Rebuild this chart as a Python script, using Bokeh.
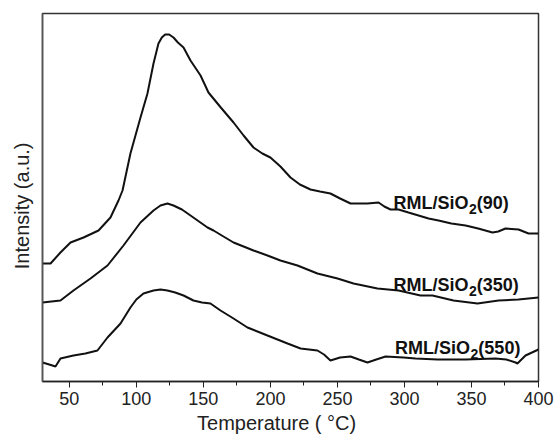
from bokeh.plotting import figure
from bokeh.models import FixedTicker, Label
from bokeh.embed import file_html
from bokeh.resources import INLINE

# Temperature (°C) and intensity (a.u.)
t_90 = [30, 36, 43.4, 50.9, 60.6, 71.8, 80.7, 86.7, 89.7, 95.6, 103.1, 108.3, 112.8, 116.5,
        119.0, 121.5, 124.5, 127.7, 131.0, 135.2, 140.4, 147.9, 153.8, 163.0, 172.5, 180.0,
        187.4, 194.0, 200.0, 207.5, 215.0, 222.0, 229.9, 237.0, 244.8, 252.0, 259.8, 266.0,
        272.4, 280.7, 285.0, 289.6, 295.6, 303.0, 310.5, 318.0, 325.4, 335.0, 345.6, 355.0,
        365.7, 370.0, 375.4, 385.1, 392.6, 400]
i_90 = [118, 118, 129, 139, 144, 151, 164, 181, 191, 228, 264, 288, 318, 338,
        344, 347, 347, 344, 339, 334, 321, 306, 289, 274, 259, 246,
        234, 228, 224, 215, 204, 197, 192, 190, 188, 183, 178, 178,
        178, 179, 175, 172, 172, 169, 166, 163, 161, 158, 156, 153,
        149, 150, 153, 152, 148, 148]

t_350 = [30, 43.4, 53.1, 65.8, 78.5, 90.4, 103.1, 112.8, 118.0, 123.2, 127.7, 134.0, 140.4,
         153.1, 157.6, 165.0, 172.5, 180.0, 187.4, 197.8, 207.5, 220.2, 235.1, 250.1, 262.0,
         279.9, 295.6, 312.0, 320.9, 336.6, 354.5, 370.2, 385.0, 400]
i_350 = [79, 81, 91, 103, 116, 136, 159, 171, 176, 178, 176, 172, 166,
         154, 151, 145, 139, 135, 131, 126, 121, 116, 108, 103, 98,
         93, 91, 86, 86, 81, 78, 81, 82, 84]

t_550 = [30, 35.0, 39.7, 43.4, 53.1, 62.0, 71.0, 78.5, 88.2, 95.6, 100.0, 105.3, 112.8,
         118.0, 123.2, 129.0, 135.2, 142.6, 149.0, 155.3, 162.8, 172.5, 182.9, 197.8, 212.8,
         222.5, 235.1, 240.0, 244.8, 252.0, 259.8, 266.0, 272.4, 279.0, 285.9, 299.3, 308.3,
         324.7, 345.6, 367.9, 376.0, 382.9, 384.3, 390.3, 400]
i_550 = [19, 17, 15, 23, 26, 28, 31, 44, 58, 74, 82, 88, 91,
         92, 91, 89, 86, 81, 79, 78, 71, 63, 54, 46, 38,
         33, 31, 27, 21, 24, 25, 22, 19, 22, 25, 24, 23,
         22, 22, 23, 22, 19, 18, 26, 32]

label_main = ["RML/SiO", "RML/SiO", "RML/SiO"]
label_sub = ["2", "2", "2"]
label_tail = ["(90)", "(350)", "(550)"]
label_t = [291.8, 291.8, 293.0]
label_i = [179, 97, 34]

x_ticks = [50, 100, 150, 200, 250, 300, 350, 400]
x_minor = [75, 125, 175, 225, 275, 325, 375]

FONT = "Liberation Sans"
INK = "#111111"
PX_PER_T = 496 / 370.0  # horizontal pixels per °C on this frame
NBSP = "\u00a0"

p = figure(frame_width=496, frame_height=368, x_range=(30, 400), y_range=(0, 368),
           output_backend="svg", toolbar_location=None,
           min_border_left=42, min_border_right=17, min_border_top=13, min_border_bottom=58)
p.background_fill_color = "white"
p.border_fill_color = "white"
p.outline_line_color = "#333333"
p.outline_line_width = 1.5
p.xgrid.visible = False
p.ygrid.visible = False

for t, i in [(t_90, i_90), (t_350, i_350), (t_550, i_550)]:
    p.line(t, i, line_color=INK, line_width=2)

main_w = 75.5 / PX_PER_T
sub_w = 7.8 / PX_PER_T
for m, s, tail, lt, li in zip(label_main, label_sub, label_tail, label_t, label_i):
    p.add_layout(Label(x=lt, y=li, text=m, text_font=FONT, text_font_size="18px",
                       text_font_style="bold", text_color=INK, text_baseline="alphabetic"))
    p.add_layout(Label(x=lt + main_w, y=li - 6, text=s, text_font=FONT, text_font_size="14px",
                       text_font_style="bold", text_color=INK, text_baseline="alphabetic"))
    p.add_layout(Label(x=lt + main_w + sub_w, y=li, text=tail, text_font=FONT,
                       text_font_size="18px", text_font_style="bold", text_color=INK,
                       text_baseline="alphabetic"))

xa = p.xaxis[0]
xa.ticker = FixedTicker(ticks=x_ticks, minor_ticks=x_minor)
xa.axis_label = "Temperature ( \u00b0C)" + NBSP * 5
xa.axis_label_text_font = FONT
xa.axis_label_text_font_size = "20px"
xa.axis_label_text_font_style = "normal"
xa.axis_label_text_color = "#222222"
xa.axis_label_standoff = 4
xa.major_label_text_font = FONT
xa.major_label_text_font_size = "18px"
xa.major_label_text_color = "#222222"
xa.major_label_standoff = 4
xa.major_tick_out = 6
xa.major_tick_in = 0
xa.minor_tick_out = 4
xa.minor_tick_in = 0
xa.axis_line_color = "#222222"
xa.axis_line_width = 1.5
xa.major_tick_line_color = "#222222"
xa.minor_tick_line_color = "#222222"

ya = p.yaxis[0]
ya.ticker = FixedTicker(ticks=[])
ya.axis_label = "Intensity (a.u.)" + NBSP * 3
ya.axis_label_text_font = FONT
ya.axis_label_text_font_size = "20px"
ya.axis_label_text_font_style = "normal"
ya.axis_label_text_color = "#222222"
ya.axis_label_standoff = 10
ya.major_label_text_font_size = "0px"
ya.major_tick_line_color = None
ya.minor_tick_line_color = None
ya.axis_line_color = "#555555"
ya.axis_line_width = 1.5

open("out.html", "w").write(file_html(p, INLINE))
